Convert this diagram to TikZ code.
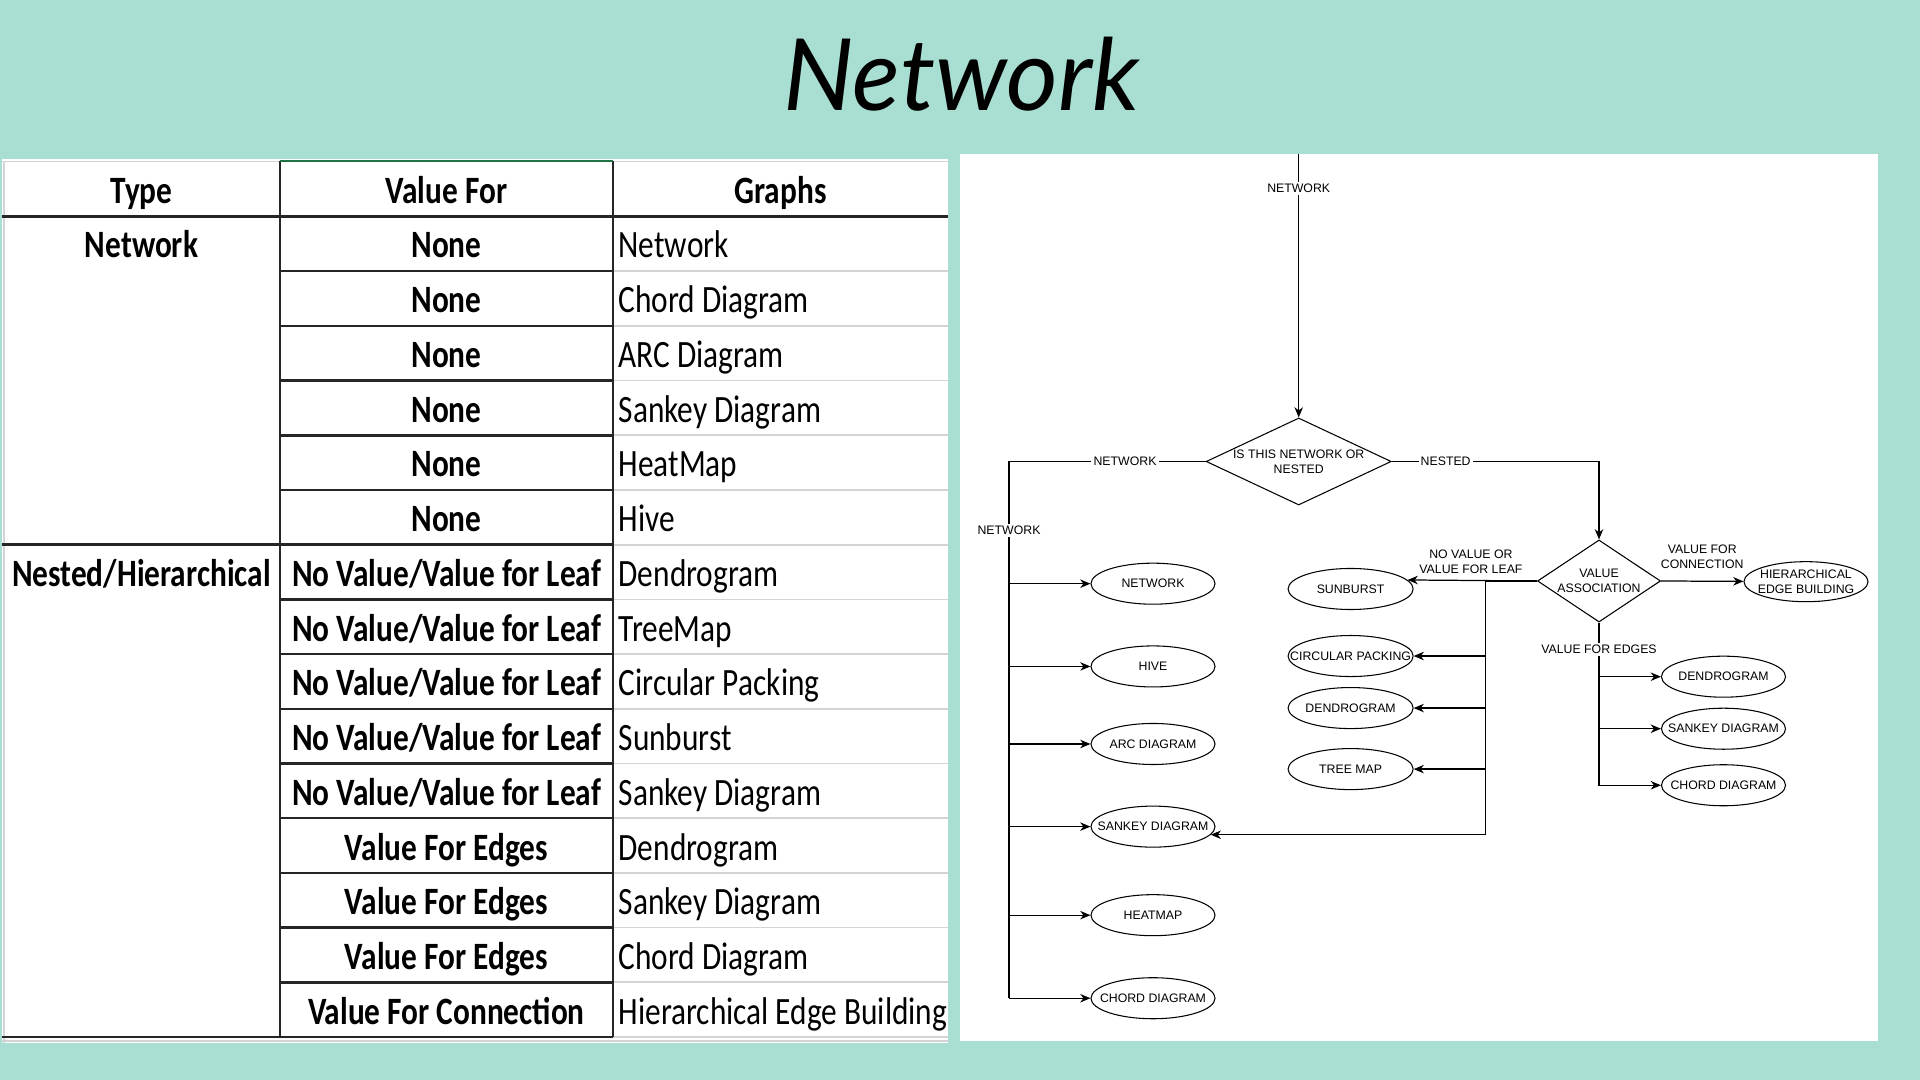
\documentclass[tikz,border=0pt]{standalone}
\usepackage{fontspec}
\usepackage{tikz}
\usetikzlibrary{positioning}
\usetikzlibrary{shapes.geometric, arrows.meta}
\newfontfamily\flowfont{Liberation Sans}
\newfontfamily\cellfont[FakeStretch=0.81]{Carlito}
\newfontfamily\titlefont{Lato}
\newcommand{\flowtext}{\flowfont\fontsize{3.5}{4.25}\selectfont}
\newcommand{\celltext}{\cellfont\fontsize{11}{13}\selectfont}
\definecolor{slide}{HTML}{A8DFD2}
\definecolor{inkrule}{HTML}{262626}
\definecolor{gridgrey}{HTML}{D4D4D4}
\definecolor{selgreen}{HTML}{217346}
\tikzstyle{outcome} = [ellipse, draw=black, line width=0.3pt, minimum width=1.24cm, minimum height=0.41cm, inner sep=0pt]
\tikzstyle{decision} = [diamond, draw=black, line width=0.3pt, inner sep=0pt]
\tikzstyle{flowarrow} = [line width=0.35pt, ->, >={Stealth[length=2.9pt,width=2.4pt,inset=0.9pt]}]
\tikzstyle{trunk} = [line width=0.55pt]
\tikzstyle{linelabel} = [fill=white, inner sep=0.6pt, font=\flowtext]
\tikzstyle{headcell} = [font=\celltext\bfseries, text height=8.5pt, text depth=1.4pt, inner sep=0pt]
\tikzstyle{typecell} = [headcell]
\tikzstyle{valuecell} = [headcell]
\tikzstyle{graphcell} = [font=\celltext, text height=8.5pt, text depth=1.4pt, inner sep=0pt, anchor=west]
\tikzstyle{darkrule} = [draw=inkrule, line width=0.7pt]
\tikzstyle{greyrule} = [draw=gridgrey, line width=0.5pt]

\begin{document}
\begin{tikzpicture}[x=0.01cm, y=-0.01cm, every label/.style={font=\flowtext, inner sep=0pt}]

\useasboundingbox (0,0) rectangle (1920,1080);
\fill[slide] (0,0) rectangle (1920,1080);

% Title

	\node (title) [anchor=base, font=\titlefont\itshape\fontsize{28.35}{34}\selectfont] at (961.5,111) {Network};


% Table

	\fill[white] (2,159) rectangle (948,1043);

\begin{scope}[node distance=0.547cm]
	\clip (2,159) rectangle (948,1043);

	\draw[greyrule] (2,161.5) -- (948,161.5);
	\draw[greyrule] (4,161) -- (4,1043);
	\draw[greyrule] (2,1041) -- (948,1041);
	\foreach \k in {1,...,15} \draw[greyrule] (613,{216.5+54.7*\k}) -- (948,{216.5+54.7*\k});
	\foreach \k in {1,...,14} \draw[darkrule] (280,{216.5+54.7*\k}) -- (613,{216.5+54.7*\k});
	\draw[darkrule] (2,216.5) -- (948,216.5);
	\draw[darkrule] (2,544.7) -- (280,544.7);
	\draw[darkrule] (2,1037) -- (613,1037);
	\draw[darkrule] (280,161) -- (280,1037);
	\draw[darkrule] (613,161) -- (613,1037);
	\draw[selgreen, line width=0.6pt] (280,161) -- (613,161);

	\node (typehead) [headcell] at (141.5,190.8) {Type};
	\node (valuehead) [headcell] at (446.5,190.8) {Value For};
	\node (graphhead) [headcell] at (780.5,190.8) {Graphs};

	\node (type1) [typecell] at (141.5,245.5) {Network};
	\node (type2) [typecell, node distance=3.282cm, below of=type1] {Nested/Hierarchical};

	\node (v1) [valuecell] at (446.5,245.5) {None};
	\node (v2) [valuecell, below of=v1] {None};
	\node (v3) [valuecell, below of=v2] {None};
	\node (v4) [valuecell, below of=v3] {None};
	\node (v5) [valuecell, below of=v4] {None};
	\node (v6) [valuecell, below of=v5] {None};
	\node (v7) [valuecell, below of=v6] {No Value/Value for Leaf};
	\node (v8) [valuecell, below of=v7] {No Value/Value for Leaf};
	\node (v9) [valuecell, below of=v8] {No Value/Value for Leaf};
	\node (v10) [valuecell, below of=v9] {No Value/Value for Leaf};
	\node (v11) [valuecell, below of=v10] {No Value/Value for Leaf};
	\node (v12) [valuecell, below of=v11] {Value For Edges};
	\node (v13) [valuecell, below of=v12] {Value For Edges};
	\node (v14) [valuecell, below of=v13] {Value For Edges};
	\node (v15) [valuecell, below of=v14] {Value For Connection};

	\coordinate (gx) at (618,0);
	\node (g1) [graphcell] at (v1 -| gx) {Network};
	\node (g2) [graphcell] at (v2 -| gx) {Chord Diagram};
	\node (g3) [graphcell] at (v3 -| gx) {ARC Diagram};
	\node (g4) [graphcell] at (v4 -| gx) {Sankey Diagram};
	\node (g5) [graphcell] at (v5 -| gx) {HeatMap};
	\node (g6) [graphcell] at (v6 -| gx) {Hive};
	\node (g7) [graphcell] at (v7 -| gx) {Dendrogram};
	\node (g8) [graphcell] at (v8 -| gx) {TreeMap};
	\node (g9) [graphcell] at (v9 -| gx) {Circular Packing};
	\node (g10) [graphcell] at (v10 -| gx) {Sunburst};
	\node (g11) [graphcell] at (v11 -| gx) {Sankey Diagram};
	\node (g12) [graphcell] at (v12 -| gx) {Dendrogram};
	\node (g13) [graphcell] at (v13 -| gx) {Sankey Diagram};
	\node (g14) [graphcell] at (v14 -| gx) {Chord Diagram};
	\node (g15) [graphcell] at (v15 -| gx) {Hierarchical Edge Building};
\end{scope}


% Flowchart panel

	\fill[white] (960,154) rectangle (1878,1041);

	\coordinate (start) at (1298.7,154);
	\coordinate (netbus) at (1009,461.5);
	\coordinate (leafbus) at (1485.4,581);


% Decisions

	\node (isnet) [decision, minimum width=1.85cm, minimum height=0.87cm, label={[align=center]center:IS THIS NETWORK OR\\NESTED}] at (1298.7,461.5) {};

	\node (va) [decision, minimum width=1.23cm, minimum height=0.82cm, label={[align=center]center:VALUE\\ASSOCIATION}] at (1599,581) {};


% Network graphs

	\node (netw) [outcome, label=center:NETWORK] at (1153,583.7) {};
	\node (hive) [outcome, node distance=0.827cm, below of=netw, label=center:HIVE] {};
	\node (arc) [outcome, node distance=0.775cm, below of=hive, label=center:ARC DIAGRAM] {};
	\node (sankey) [outcome, node distance=0.826cm, below of=arc, label=center:SANKEY DIAGRAM] {};
	\node (heat) [outcome, node distance=0.885cm, below of=sankey, label=center:HEATMAP] {};
	\node (chord) [outcome, node distance=0.83cm, below of=heat, label=center:CHORD DIAGRAM] {};


% Leaf value graphs

	\node (sunburst) [outcome, minimum width=1.25cm, label=center:SUNBURST] at (1350.6,589) {};
	\node (circ) [outcome, minimum width=1.25cm, node distance=0.67cm, below of=sunburst, label=center:CIRCULAR PACKING] {};
	\node (dendro) [outcome, minimum width=1.25cm, node distance=0.52cm, below of=circ, label=center:DENDROGRAM] {};
	\node (treemap) [outcome, minimum width=1.25cm, node distance=0.61cm, below of=dendro, label=center:TREE MAP] {};


% Edge and connection value graphs

	\node (heb) [outcome, minimum height=0.4cm, label={[align=center]center:HIERARCHICAL\\EDGE BUILDING}] at (1806,581.7) {};

	\node (dendroE) [outcome, label=center:DENDROGRAM] at (1723.5,676.7) {};
	\node (sankeyE) [outcome, node distance=0.52cm, below of=dendroE, label=center:SANKEY DIAGRAM] {};
	\node (chordE) [outcome, node distance=0.565cm, below of=sankeyE, label=center:CHORD DIAGRAM] {};


% Network question
	\draw [flowarrow] (start) -- node[linelabel, pos=0.13]{NETWORK} (isnet.north);

	\draw [trunk] (isnet.west) -- node[linelabel, pos=0.41]{NETWORK} (netbus) -- node[linelabel, pos=0.129]{NETWORK} (netbus |- chord);

	\draw [flowarrow] (netbus |- netw) -- (netw);
	\draw [flowarrow] (netbus |- hive) -- (hive);
	\draw [flowarrow] (netbus |- arc) -- (arc);
	\draw [flowarrow] (netbus |- sankey) -- (sankey);
	\draw [flowarrow] (netbus |- heat) -- (heat);
	\draw [flowarrow] (netbus |- chord) -- (chord);


% Nested branch
	\draw [flowarrow] (isnet.east) -| node[linelabel, pos=0.13]{NESTED} (va.north);


% No value or leaf value
	\draw [flowarrow] (va.west) -- node[above=0.4pt, align=center, inner sep=1.5pt, font=\flowtext, pos=0.51]{NO VALUE OR\\VALUE FOR LEAF} (sunburst.9);
	\draw [trunk] (va.west) -- (leafbus);

	\draw [flowarrow] (leafbus |- circ) -- (circ);
	\draw [flowarrow] (leafbus |- dendro) -- (dendro);
	\draw [flowarrow] (leafbus |- treemap) -- (treemap);
	\draw [flowarrow] (leafbus) |- (sankey.-8);


% Value for connection
	\draw [flowarrow] (va.east) -- node[above=2pt, align=center, inner sep=1.5pt, font=\flowtext]{VALUE FOR\\CONNECTION} (heb);


% Value for edges
	\draw [flowarrow] (va.south) |- node[linelabel, pos=0.0815]{VALUE FOR EDGES} (chordE);
	\draw [flowarrow] (va |- dendroE) -- (dendroE);
	\draw [flowarrow] (va |- sankeyE) -- (sankeyE);


\end{tikzpicture}
\end{document}
